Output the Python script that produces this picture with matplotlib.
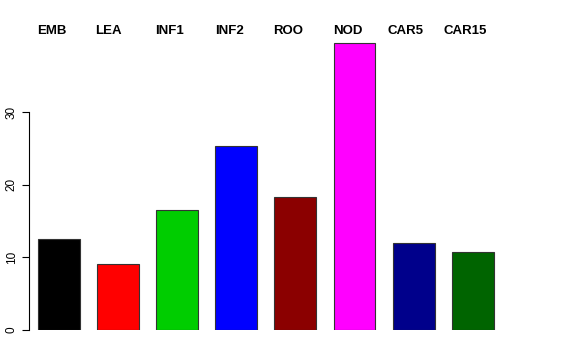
import matplotlib
matplotlib.use("Agg")
import matplotlib.pyplot as plt
import matplotlib.transforms as mtransforms
import numpy as np

# ---------------- DATA ----------------
tissues = ["EMB", "LEA", "INF1", "INF2", "ROO", "NOD", "CAR5", "CAR15"]
values = [12.5, 9.1, 16.5, 25.3, 18.3, 39.5, 12.0, 10.7]
colors = ["#000000", "#FF0000", "#00CD00", "#0000FF", "#8B0000", "#FF00FF", "#00008B", "#006400"]

# label x positions (data units, left aligned), as in the original figure
label_x = [-0.37, 0.61, 1.62, 2.64, 3.62, 4.64, 5.55, 6.50]

plt.rcParams["font.family"] = ["Liberation Sans", "DejaVu Sans"]

fig = plt.figure(figsize=(5.76, 3.6), dpi=100)
ax = fig.add_axes([29 / 576, 30 / 360, 518 / 576, 298 / 360])

x = np.arange(len(tissues))
ax.bar(x, values, width=0.71, color=colors, edgecolor="#333333", linewidth=0.8)

ax.set_xlim(-0.508, 8.257)
ax.set_ylim(0, 41)
ax.set_yticks([0, 10, 20, 30])
ax.tick_params(axis="y", labelsize=8.5, length=5, width=0.8, pad=3)
for lbl in ax.get_yticklabels():
    lbl.set_rotation(90)
    lbl.set_va("center")
ax.set_xticks([])

for s in ["top", "right", "bottom"]:
    ax.spines[s].set_visible(False)
ax.spines["left"].set_bounds(0, 30)
ax.spines["left"].set_linewidth(0.8)

# tissue names along the top
trans = mtransforms.blended_transform_factory(ax.transData, fig.transFigure)
for name, lx in zip(tissues, label_x):
    ax.text(lx, 1 - 31 / 360, name, transform=trans, ha="left", va="center",
            fontsize=9.5, fontweight="bold", clip_on=False)

fig.savefig("out.png", dpi=100)
